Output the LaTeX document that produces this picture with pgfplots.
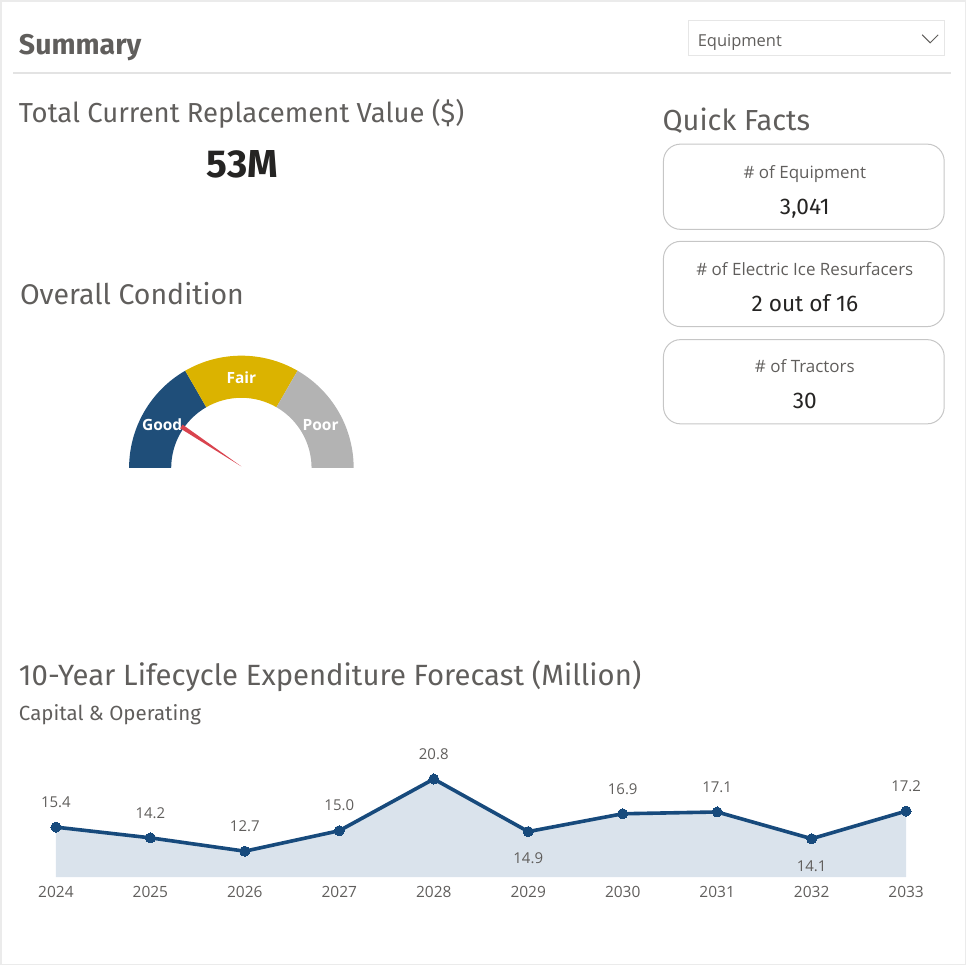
\documentclass[border=0pt]{standalone}
\usepackage{fontspec}
\setmainfont{Fira Sans}
\newfontfamily\seg{Open Sans}
\usepackage{pgfplots}
\usepackage{pgfplotstable}
\pgfplotsset{compat=1.18}
\usepgfplotslibrary{fillbetween}
\definecolor{txt}{HTML}{605E5C}
\definecolor{dark}{HTML}{252423}
\definecolor{framecol}{HTML}{EBEBEB}
\definecolor{sepcol}{HTML}{E3E3E3}
\definecolor{ddcol}{HTML}{E6E6E6}
\definecolor{cardcol}{HTML}{C6C6C6}
\definecolor{goodcol}{HTML}{1F4E79}
\definecolor{faircol}{HTML}{DBB300}
\definecolor{poorcol}{HTML}{B3B3B3}
\definecolor{needlecol}{HTML}{D9434E}
\definecolor{linecol}{HTML}{174A7C}
\definecolor{areacol}{HTML}{DAE3EC}
\newcommand{\fs}[1]{\fontsize{#1}{#1}\selectfont}

\pgfplotstableread{
x y
0 15.4
1 14.2
2 12.7
3 15.0
4 20.8
5 14.9
6 16.9
7 17.1
8 14.1
9 17.2
}\forecast

\begin{document}
\begin{tikzpicture}
\begin{scope}[x=1bp,y=-1bp]
\draw[framecol, line width=1.5bp] (2,2) rectangle (964,963);
\draw[sepcol, line width=2.5bp] (14,74) -- (950,74);
\draw[ddcol, line width=1bp] (688,22) rectangle (943,57);
\node[anchor=base west, text=txt, inner sep=0] at (697,48) {\seg\fs{16.5}Equipment};
\draw[txt, line width=1bp] (921,36) -- (929,44) -- (937,36);
\node[anchor=base west, text=txt, inner sep=0] at (20,56) {\fs{28.5}\bfseries Summary};
\node[anchor=base west, text=txt, inner sep=0] at (20,123) {\fs{27.5}Total Current Replacement Value (\$)};
\node[anchor=base, text=dark, inner sep=0] at (243,178) {\fs{39}\bfseries 53M};
\node[anchor=base west, text=txt, inner sep=0] at (21,305) {\fs{28.5}Overall Condition};
\node[anchor=base west, text=txt, inner sep=0] at (662,131) {\fs{29}Quick Facts};
% cards
\draw[cardcol, line width=1bp, rounded corners=17bp] (663,145) rectangle (943,230);
\draw[cardcol, line width=1bp, rounded corners=17bp] (663,242) rectangle (943,327);
\draw[cardcol, line width=1bp, rounded corners=17bp] (663,340) rectangle (943,424);
\node[anchor=base, text=txt, inner sep=0] at (804,179) {\seg\fs{17}\# of Equipment};
\node[anchor=base, text=dark, inner sep=0] at (804,215) {\fs{22.7}3,041};
\node[anchor=base, text=txt, inner sep=0] at (804,276) {\seg\fs{17}\# of Electric Ice Resurfacers};
\node[anchor=base, text=dark, inner sep=0] at (804,312) {\fs{22.7}2 out of 16};
\node[anchor=base, text=txt, inner sep=0] at (804,373) {\seg\fs{17}\# of Tractors};
\node[anchor=base, text=dark, inner sep=0] at (804,409) {\fs{22.7}30};
% chart titles
\node[anchor=base west, text=txt, inner sep=0] at (20,685) {\fs{29.3}10-Year Lifecycle Expenditure Forecast (Million)};
\node[anchor=base west, text=txt, inner sep=0] at (20,720) {\fs{20.5}Capital \& Operating};
\end{scope}

% gauge
\begin{axis}[at={(130bp,-468bp)}, anchor=south west, scale only axis,
  width=224bp, height=112bp, xmin=-112, xmax=112, ymin=0, ymax=112,
  hide axis, clip=false]
\fill[goodcol] (axis cs:-112,0) arc[start angle=180, end angle=120, radius=112]
  -- (axis cs:-35,60.62) arc[start angle=120, end angle=180, radius=70] -- cycle;
\fill[faircol] (axis cs:-56,96.99) arc[start angle=120, end angle=60, radius=112]
  -- (axis cs:35,60.62) arc[start angle=60, end angle=120, radius=70] -- cycle;
\fill[poorcol] (axis cs:56,96.99) arc[start angle=60, end angle=0, radius=112]
  -- (axis cs:70,0) arc[start angle=0, end angle=60, radius=70] -- cycle;
\node[anchor=base, text=white, inner sep=0] at (axis cs:-79,37) {\seg\bfseries\fs{15.5}Good};
\node[anchor=base, text=white, inner sep=0] at (axis cs:0,84) {\seg\bfseries\fs{15.5}Fair};
\node[anchor=base, text=white, inner sep=0] at (axis cs:79,37) {\seg\bfseries\fs{15.5}Poor};
\addplot[fill=needlecol, draw=none] coordinates {(0,1.5) (-61,39.5) (-58.6,43.2) (0,1.5)};
\end{axis}

% line chart
\begin{axis}[at={(57bp,-876bp)}, anchor=south west, scale only axis,
  width=848bp, height=144bp, xmin=0, xmax=9, ymin=9.8, ymax=26,
  clip=false, axis line style={draw=none}, ytick=\empty,
  /pgf/number format/assume math mode=true,
  xtick={0,...,9}, xticklabels={2024,2025,2026,2027,2028,2029,2030,2031,2032,2033},
  major tick length=0,
  xticklabel style={anchor=center, yshift=-14.5bp, font=\seg\fs{15.5}, text=txt}]
\addplot[name path=top, draw=none, forget plot] table[x=x,y=y]{\forecast};
\addplot[name path=base, draw=none, forget plot] coordinates {(0,9.8) (9,9.8)};
\addplot[areacol, draw=none] fill between[of=top and base];
\addplot[linecol, line width=3.6bp, mark=*, mark size=5bp, mark options={fill=linecol, draw=linecol, line width=0}] table[x=x,y=y]{\forecast};
\addplot[draw=none, nodes near coords={\pgfmathprintnumber[fixed,fixed zerofill,precision=1]{\pgfplotspointmeta}},
  every node near coord/.append style={anchor=center, yshift=25bp, font=\seg\fs{15}, text=txt}]
  coordinates {(0,15.4) (1,14.2) (2,12.7) (3,15.0) (4,20.8) (6,16.9) (7,17.1) (9,17.2)};
\addplot[draw=none, nodes near coords={\pgfmathprintnumber[fixed,fixed zerofill,precision=1]{\pgfplotspointmeta}},
  every node near coord/.append style={anchor=center, yshift=-27bp, font=\seg\fs{15}, text=txt}]
  coordinates {(5,14.9) (8,14.1)};
\end{axis}
\end{tikzpicture}
\end{document}
